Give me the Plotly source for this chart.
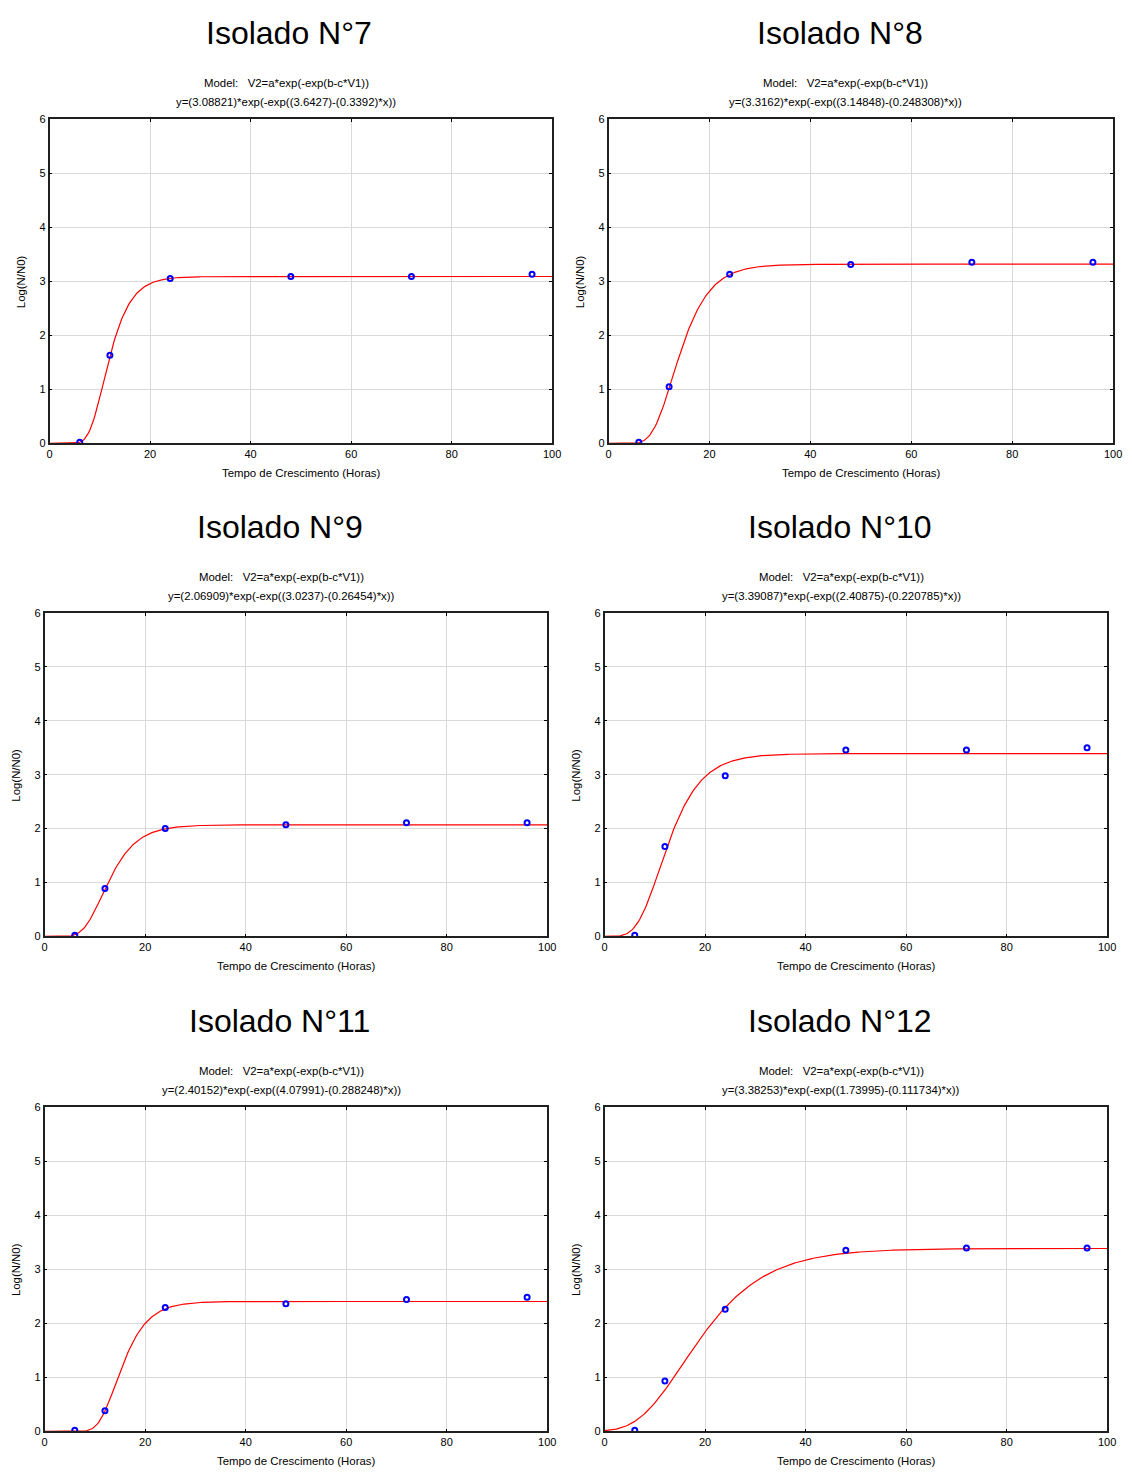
import numpy as np
import plotly.graph_objects as go

# page has an 8px body margin; figure coordinates are reference pixels minus OFF
OFF = 8
W, H = 1132 - OFF, 1474 - OFF

titles = ["Isolado N°7", "Isolado N°8", "Isolado N°9", "Isolado N°10", "Isolado N°11", "Isolado N°12"]
hours = [6, 12, 24, 48, 72, 96]
obs_7 = [0.02, 1.63, 3.05, 3.09, 3.09, 3.13]
obs_8 = [0.02, 1.05, 3.13, 3.31, 3.35, 3.35]
obs_9 = [0.02, 0.89, 2.00, 2.07, 2.11, 2.11]
obs_10 = [0.02, 1.67, 2.98, 3.46, 3.46, 3.50]
obs_11 = [0.02, 0.38, 2.29, 2.36, 2.44, 2.48]
obs_12 = [0.02, 0.93, 2.26, 3.35, 3.39, 3.39]
observed = [obs_7, obs_8, obs_9, obs_10, obs_11, obs_12]

# fitted Gompertz parameters (as printed on the chart)
param_a = [3.08821, 3.3162, 2.06909, 3.39087, 2.40152, 3.38253]
param_b = [3.6427, 3.14848, 3.0237, 2.40875, 4.07991, 1.73995]
param_c = [0.3392, 0.248308, 0.26454, 0.220785, 0.288248, 0.111734]
param_a_txt = ["3.08821", "3.3162", "2.06909", "3.39087", "2.40152", "3.38253"]
param_b_txt = ["3.6427", "3.14848", "3.0237", "2.40875", "4.07991", "1.73995"]
param_c_txt = ["0.3392", "0.248308", "0.26454", "0.220785", "0.288248", "0.111734"]

x_ticks = [0, 20, 40, 60, 80, 100]
y_ticks = [0, 1, 2, 3, 4, 5, 6]

# panel pixel boxes (reference page coords): left, right, top, bottom
boxes = [
    (47, 555, 114, 441),
    (612, 1122, 114, 441),
    (42, 550, 612, 938),
    (608, 1116, 612, 938),
    (42, 550, 1110, 1437),
    (608, 1116, 1110, 1437),
]
title_cx = [289, 846, 280, 846, 279, 846]
model_cx = [286, 851, 281, 847, 281, 847]

FONT = "Liberation Sans, Arial, sans-serif"
fig = go.Figure()
annotations = []
layout = {}


def px(xp):
    return (xp - OFF) / W


def py(yp):
    return 1 - (yp - OFF) / H


xs = np.linspace(0, 100, 401)
for i in range(6):
    l, r, t, b = boxes[i]
    n = "" if i == 0 else str(i + 1)
    xa, ya = "x" + n, "y" + n
    a, bb, c = param_a[i], param_b[i], param_c[i]
    ys = a * np.exp(-np.exp(bb - c * xs))
    fig.add_trace(go.Scatter(x=xs, y=ys, mode="lines", line=dict(color="#ff0000", width=1.2),
                             xaxis=xa, yaxis=ya, showlegend=False, hoverinfo="skip"))
    fig.add_trace(go.Scatter(x=hours, y=observed[i], mode="markers",
                             marker=dict(symbol="circle-open", size=5, color="#0000ff",
                                         line=dict(color="#0000ff", width=2)),
                             xaxis=xa, yaxis=ya, showlegend=False))
    common = dict(showline=True, linecolor="#202020", linewidth=1.5, mirror="allticks",
                  showgrid=True, gridcolor="#d9d9d9", gridwidth=1, zeroline=False,
                  ticks="inside", ticklen=3, tickcolor="black",
                  tickfont=dict(family=FONT, size=11, color="black"))
    layout["xaxis" + n] = dict(domain=[px(l), px(r)], anchor=ya, range=[0, 100],
                               tickvals=x_ticks, **common)
    layout["yaxis" + n] = dict(domain=[py(b), py(t)], anchor=xa, range=[0, 6],
                               tickvals=y_ticks, **common)
    cx = (l + r) / 2
    annotations.append(dict(text=titles[i], x=px(title_cx[i]), y=py(t - 87), xref="paper", yref="paper",
                            showarrow=False, font=dict(family=FONT, size=32, color="black"),
                            xanchor="center", yanchor="middle"))
    annotations.append(dict(text="Model:   V2=a*exp(-exp(b-c*V1))", x=px(model_cx[i]), y=py(t - 36),
                            xref="paper", yref="paper", showarrow=False,
                            font=dict(family=FONT, size=11.4, color="black"), xanchor="center", yanchor="middle"))
    eq = "y=(%s)*exp(-exp((%s)-(%s)*x))" % (param_a_txt[i], param_b_txt[i], param_c_txt[i])
    annotations.append(dict(text=eq, x=px(model_cx[i]), y=py(t - 17),
                            xref="paper", yref="paper", showarrow=False,
                            font=dict(family=FONT, size=11.4, color="black"), xanchor="center", yanchor="middle"))
    annotations.append(dict(text="Tempo de Crescimento (Horas)", x=px(cx), y=py(b + 30),
                            xref="paper", yref="paper", showarrow=False,
                            font=dict(family=FONT, size=11.4, color="black"), xanchor="center", yanchor="middle"))
    annotations.append(dict(text="Log(N/N0)", x=px(l - 29), y=py((t + b) / 2), textangle=-90,
                            xref="paper", yref="paper", showarrow=False,
                            font=dict(family=FONT, size=11.4, color="black"), xanchor="center", yanchor="middle"))

fig.update_layout(width=W, height=H, margin=dict(l=0, r=0, t=0, b=0),
                  paper_bgcolor="white", plot_bgcolor="white",
                  annotations=annotations, **layout)
fig.write_html("out.html")
